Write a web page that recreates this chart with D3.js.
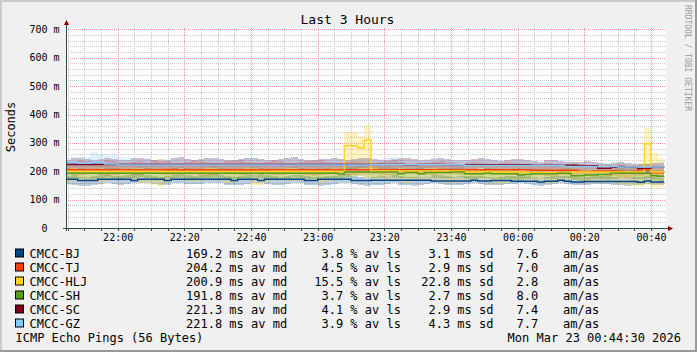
<!DOCTYPE html>
<html lang="en">
<head>
  <meta charset="UTF-8" />
  <title>Last 3 Hours</title>
  <style>
    body { margin: 0; background: #f0f0f0; }
    svg { display: block; }
    text { font-family: 'DejaVu Sans Mono', monospace; white-space: pre; }
  </style>
  <script src="https://d3js.org/d3.v7.min.js"></script>
</head>
<body>
  <div id="chart"></div>
  <script>
    // hosts, legend order
    const hosts = ["CMCC-BJ", "CMCC-TJ", "CMCC-HLJ", "CMCC-SH", "CMCC-SC", "CMCC-GZ"];
    const colors = ["#004586", "#ff420e", "#ffd320", "#579d1c", "#7e0021", "#83caff"];

    // legend stats
    const medAvg = [169.2, 204.2, 200.9, 191.8, 221.3, 221.8];
    const lossAvg = [3.8, 4.5, 15.5, 3.7, 4.1, 3.9];
    const sdevAvg = [3.1, 2.9, 22.8, 2.7, 2.9, 4.3];
    const amAs = [7.6, 7.0, 2.8, 8.0, 7.4, 7.7];

    // median rtt (ms), one value per 2 minute step starting 21:44
    const medBJ = [
      172,172,167,167,167,172,172,172,172,172, 167,172,172,172,172,167,172,172,172,172, 172,172,172,172,172,167,172,172,172,167,
      172,172,172,172,172,172,167,167,172,172, 172,172,172,167,167,167,168,168,168,168, 168,168,168,168,168,166,166,166,166,166,
      166,168,166,166,167,167,167,165,165,165, 165,162,165,165,168,165,162,162,164,164, 164,164,164,164,164,164,161,166,162,162];
    const medTJ = [
      205,205,205,205,205,205,205,205,205,205, 205,205,205,205,205,205,205,205,205,205, 205,205,205,205,205,205,205,205,205,205,
      205,205,205,205,205,205,205,205,205,205, 205,205,205,205,205,205,205,205,205,205, 205,205,205,205,205,205,205,205,205,205,
      205,205,205,205,205,205,205,205,205,205, 204,204,204,204,204,204,204,199,199,199, 201,201,201,199,193,199,205,205,195,195];
    const medHLJ = [
      199,199,199,199,199,199,199,199,199,199, 199,199,199,199,199,198,198,198,198,198, 198,198,198,198,198,198,198,198,198,198,
      198,199,199,199,199,199,199,199,199,199, 199,199,290,290,283,310,201,201,201,201, 201,201,201,201,201,201,201,201,201,201,
      197,197,197,197,197,197,197,197,197,195, 195,195,195,195,195,195,197,197,197,197, 197,197,197,197,197,197,197,297,197,197];
    const medSH = [
      193,193,193,193,193,193,193,193,193,193, 193,193,193,193,193,193,193,193,193,193, 193,193,193,193,193,193,193,193,193,193,
      193,193,193,193,193,193,193,193,193,193, 193,190,197,197,197,197,197,197,197,197, 191,196,196,191,196,196,196,196,197,197,
      191,191,191,193,191,191,191,191,187,189, 191,191,191,191,193,193,184,184,187,187, 189,189,193,193,193,193,193,193,184,182];
    const medSC = [
      224,224,224,224,224,224,224,224,224,224, 224,224,224,224,224,224,224,224,224,224, 224,224,224,224,224,224,224,224,224,224,
      224,224,224,224,224,224,224,224,224,224, 224,224,224,224,224,224,224,224,224,224, 224,222,222,224,224,224,224,223,223,223,
      223,223,223,223,223,223,223,223,223,223, 221,221,221,221,221,221,221,219,219,219, 211,211,214,217,214,214,211,211,214,214];
    const medGZ = [
      231,231,228,228,231,231,226,226,222,222, 222,222,222,222,222,222,222,222,222,222, 222,222,222,222,222,222,222,222,222,222,
      222,222,222,222,222,222,222,222,222,222, 222,222,222,222,222,222,223,223,223,223, 223,223,223,223,223,223,223,223,223,223,
      220,220,220,220,220,220,220,220,220,220, 220,220,220,220,220,217,217,217,217,217, 217,217,217,215,215,215,215,215,215,215];

    // smoke: min / max rtt per step (ms)
    const loBJ = [
      155,152,148,148,150,156,158,155,152,156, 158,160,157,155,150,152,158,160,156,154, 155,158,160,158,153,150,152,156,158,160,
      156,152,150,155,158,157,152,150,149,150, 155,158,160,155,150,148,150,152,155,157, 152,150,149,151,155,158,156,152,150,153,
      155,157,156,152,150,151,154,156,158,155, 150,149,152,155,157,156,153,150,151,154, 156,155,152,150,148,151,153,155,152,150];
    const hiBJ = [
      185,188,180,178,182,186,188,184,182,186, 190,192,187,185,180,183,188,190,186,184, 186,188,190,188,183,180,182,186,188,190,
      186,182,180,185,188,187,182,180,179,182, 185,188,190,185,180,178,180,182,185,187, 182,180,179,181,185,188,186,182,180,183,
      182,185,184,180,178,179,182,184,186,183, 178,177,180,183,185,184,181,178,179,182, 184,183,180,178,176,179,181,183,180,178];
    const loTJ = [
      190,188,186,190,192,188,185,187,190,192, 188,186,190,193,191,188,186,189,191,190, 187,185,188,191,193,190,187,186,189,192,
      190,188,186,189,191,190,187,185,188,190, 192,189,186,188,190,191,189,187,186,188, 190,192,190,188,186,187,189,191,190,188,
      187,186,188,190,191,189,187,186,185,187, 188,186,185,184,186,187,185,183,182,184, 186,185,183,180,178,182,185,186,184,182];
    const hiTJ = [
      228,232,238,235,230,226,240,236,230,228, 232,236,230,238,242,236,230,228,234,238, 236,232,228,230,236,240,238,232,228,230,
      234,238,236,230,228,232,236,240,238,232, 228,230,234,236,232,230,228,232,236,238, 234,230,228,226,230,234,236,232,228,226,
      228,232,230,226,224,228,232,230,226,224, 222,226,228,224,222,220,224,226,222,220, 222,224,220,218,216,220,224,226,222,218];
    const loHLJ = [
      160,165,170,168,162,158,165,170,172,168, 165,160,158,150,145,160,168,170,166,162, 165,168,170,166,160,162,168,170,150,148,
      162,168,170,166,164,168,170,165,160,162, 168,170,180,182,185,178,170,172,168,165, 162,160,165,168,170,166,162,160,158,162,
      165,168,170,166,160,155,158,162,168,170, 166,162,158,160,165,168,170,166,160,158, 162,160,158,155,150,148,145,150,140,145];
    const hiHLJ = [
      215,220,225,222,218,230,225,220,218,222, 225,228,222,218,215,220,225,228,222,218, 220,225,228,224,218,215,220,225,228,222,
      218,215,220,225,228,226,222,218,215,220, 225,228,338,338,323,364,230,228,225,222, 218,220,225,228,230,226,222,218,215,220,
      225,228,230,226,222,218,215,220,225,228, 226,222,218,215,220,225,228,226,222,218, 220,225,228,230,226,222,228,353,265,248];
    const loSH = [
      175,178,176,172,174,177,179,176,173,175, 178,180,177,174,172,175,178,180,176,173, 175,178,180,177,174,172,175,178,180,177,
      174,172,175,178,180,177,174,172,175,176, 178,175,180,182,184,181,178,180,182,179, 177,175,178,180,182,179,177,176,178,180,
      174,172,175,176,173,172,174,170,168,171, 173,175,174,172,175,176,168,166,169,171, 172,170,174,176,175,174,173,172,168,166];
    const hiSH = [
      208,212,210,206,208,211,213,210,207,209, 212,214,211,208,206,209,212,214,210,207, 209,212,214,211,208,206,209,212,214,211,
      208,206,209,212,214,211,208,206,209,210, 212,209,214,216,218,215,212,214,216,213, 211,209,212,214,216,213,211,210,212,214,
      208,206,209,210,207,206,208,204,202,205, 207,209,208,206,209,210,202,200,203,205, 206,204,208,210,209,208,207,206,202,200];
    const loSC = [
      208,210,206,204,208,211,209,206,204,207, 210,212,208,205,203,206,209,211,208,205, 207,210,212,209,206,204,207,210,212,209,
      206,204,207,210,212,209,206,204,207,208, 210,207,205,208,210,212,210,208,206,209, 211,209,207,208,210,212,209,207,206,208,
      207,209,210,208,206,205,207,206,205,204, 206,205,204,203,205,206,204,202,203,201, 196,195,198,200,198,197,195,194,196,198];
    const hiSC = [
      240,245,248,242,238,244,246,242,238,241, 246,248,243,239,237,241,246,249,244,240, 242,246,248,244,240,238,242,246,248,244,
      240,238,242,246,249,244,240,238,242,244, 246,242,238,242,246,248,244,240,238,242, 246,248,244,240,238,242,246,244,240,238,
      240,242,246,244,240,236,238,242,244,240, 236,234,238,240,236,234,232,234,236,232, 228,226,230,232,228,226,224,226,228,230];
    const loGZ = [
      210,212,208,206,210,212,208,205,207,209, 211,209,207,205,208,210,212,209,206,204, 207,210,212,209,206,204,207,210,212,209,
      206,204,207,210,212,209,206,204,207,208, 210,207,205,208,210,212,210,208,206,209, 211,209,207,208,210,212,209,207,206,208,
      205,207,208,206,204,203,205,204,203,202, 204,203,202,201,203,204,202,200,201,199, 198,197,199,200,198,197,196,195,197,198];
    const hiGZ = [
      248,252,250,250,268,262,255,258,250,245, 242,244,246,240,238,242,245,247,243,240, 242,245,247,243,240,238,242,245,247,244,
      240,238,242,245,247,244,240,238,242,244, 245,242,238,242,245,247,244,242,246,249, 245,242,238,240,244,246,242,240,238,240,
      238,240,244,242,238,235,237,240,242,238, 236,234,236,238,235,233,232,234,236,232, 230,228,231,233,230,228,226,228,230,231];

    const medians = [medBJ, medTJ, medHLJ, medSH, medSC, medGZ];
    const lows = [loBJ, loTJ, loHLJ, loSH, loSC, loGZ];
    const highs = [hiBJ, hiTJ, hiHLJ, hiSH, hiSC, hiGZ];

    const yTicks = [0, 100, 200, 300, 400, 500, 600, 700];

    const width = 697;
    const height = 352;
    const plotLeft = 66, plotRight = 666, plotTop = 28, plotBottom = 228;
    const axisColor = "#2c4d43";
    const arrowColor = "#800000";

    const tStart = new Date(Date.UTC(2026, 2, 22, 21, 44, 30));
    const tEnd = new Date(Date.UTC(2026, 2, 23, 0, 44, 30));
    const firstStep = Date.UTC(2026, 2, 22, 21, 44);
    const stepMs = 120000;

    const x = d3.scaleUtc().domain([tStart, tEnd]).range([plotLeft, plotRight]);
    const y = d3.scaleLinear().domain([0, 705]).range([plotBottom, plotTop]);

    const svg = d3.select("#chart").append("svg")
      .attr("width", width)
      .attr("height", height);

    // frame
    svg.append("rect").attr("width", width).attr("height", height).attr("fill", "#f0f0f0");
    svg.append("rect").attr("x", 0).attr("y", 0).attr("width", width).attr("height", 2).attr("fill", "#cbcbcb");
    svg.append("rect").attr("x", 0).attr("y", 0).attr("width", 2).attr("height", height).attr("fill", "#cbcbcb");
    svg.append("rect").attr("x", 0).attr("y", height - 2).attr("width", width).attr("height", 2).attr("fill", "#999999");
    svg.append("rect").attr("x", width - 2).attr("y", 0).attr("width", 2).attr("height", height).attr("fill", "#999999");

    svg.append("rect")
      .attr("x", plotLeft).attr("y", plotTop)
      .attr("width", plotRight - plotLeft).attr("height", plotBottom - plotTop)
      .attr("fill", "#ffffff");

    // grid
    const grid = svg.append("g").attr("stroke-width", 1).attr("stroke-dasharray", "1,1");
    const px = v => Math.round(v) + 0.5;

    d3.range(20, 705, 20).filter(v => v % 100 !== 0).forEach(v => {
      grid.append("line")
        .attr("x1", plotLeft).attr("x2", plotRight)
        .attr("y1", px(y(v))).attr("y2", px(y(v)))
        .attr("stroke", "#c8c8c8");
    });
    const minorTimes = d3.utcMinute.every(5).range(tStart, tEnd);
    minorTimes.filter(t => t.getUTCMinutes() % 20 !== 0).forEach(t => {
      grid.append("line")
        .attr("x1", px(x(t))).attr("x2", px(x(t)))
        .attr("y1", plotTop).attr("y2", plotBottom)
        .attr("stroke", "#c8c8c8");
    });
    yTicks.filter(v => v > 0).forEach(v => {
      grid.append("line")
        .attr("x1", plotLeft).attr("x2", plotRight)
        .attr("y1", px(y(v))).attr("y2", px(y(v)))
        .attr("stroke", "#ee9a9a");
    });
    const majorTimes = d3.utcMinute.every(20).range(tStart, tEnd);
    majorTimes.forEach(t => {
      grid.append("line")
        .attr("x1", px(x(t))).attr("x2", px(x(t)))
        .attr("y1", plotTop).attr("y2", plotBottom)
        .attr("stroke", "#ee9a9a");
    });

    // smoke
    const steps = d3.range(medBJ.length).map(k => ({
      t0: new Date(Math.max(firstStep + k * stepMs, +tStart)),
      t1: new Date(firstStep + (k + 1) * stepMs)
    }));

    hosts.forEach((h, i) => {
      svg.append("g")
        .attr("fill", colors[i])
        .attr("fill-opacity", 0.27)
        .attr("shape-rendering", "crispEdges")
        .selectAll("rect")
        .data(steps)
        .enter().append("rect")
        .attr("x", d => x(d.t0))
        .attr("width", d => x(d.t1) - x(d.t0))
        .attr("y", (d, k) => y(highs[i][k]))
        .attr("height", (d, k) => y(lows[i][k]) - y(highs[i][k]));
    });

    // median lines
    const line = d3.line()
      .x(d => x(d.t))
      .y(d => y(d.v))
      .curve(d3.curveStepAfter);

    hosts.forEach((h, i) => {
      const pts = steps.map((s, k) => ({ t: s.t0, v: medians[i][k] }));
      pts.push({ t: steps[steps.length - 1].t1, v: medians[i][medians[i].length - 1] });
      svg.append("path")
        .attr("d", line(pts))
        .attr("fill", "none")
        .attr("stroke", colors[i])
        .attr("stroke-width", 1.5);
    });

    // axes
    svg.append("line")
      .attr("x1", plotLeft - 3).attr("x2", plotRight + 4)
      .attr("y1", plotBottom + 0.5).attr("y2", plotBottom + 0.5)
      .attr("stroke", axisColor);
    svg.append("line")
      .attr("x1", plotLeft + 0.5).attr("x2", plotLeft + 0.5)
      .attr("y1", plotBottom + 3).attr("y2", plotTop - 3)
      .attr("stroke", axisColor);
    svg.append("path")
      .attr("d", `M${plotLeft - 2},${plotTop - 3}L${plotLeft + 3},${plotTop - 3}L${plotLeft + 0.5},${plotTop - 8}Z`)
      .attr("fill", arrowColor);
    svg.append("path")
      .attr("d", `M${plotRight + 2},${plotBottom - 2}L${plotRight + 2},${plotBottom + 3}L${plotRight + 7},${plotBottom + 0.5}Z`)
      .attr("fill", arrowColor);

    minorTimes.forEach(t => {
      svg.append("line")
        .attr("x1", px(x(t))).attr("x2", px(x(t)))
        .attr("y1", plotBottom + 1).attr("y2", plotBottom + 3)
        .attr("stroke", axisColor);
    });

    // y labels
    svg.append("g")
      .attr("font-size", 10)
      .attr("text-anchor", "end")
      .attr("fill", "#000")
      .selectAll("text")
      .data(yTicks)
      .enter().append("text")
      .attr("xml:space", "preserve")
      .attr("x", 59.5)
      .attr("y", d => y(d) + 3.6)
      .text(d => d === 0 ? "0  " : d + " m");

    // x labels
    svg.append("g")
      .attr("font-size", 10)
      .attr("text-anchor", "middle")
      .attr("fill", "#000")
      .selectAll("text")
      .data(majorTimes)
      .enter().append("text")
      .attr("x", d => x(d) + 0.5)
      .attr("y", 241)
      .text(d3.utcFormat("%H:%M"));

    // title, axis title, watermark
    svg.append("text")
      .attr("x", 347.5).attr("y", 24)
      .attr("font-size", 13)
      .attr("text-anchor", "middle")
      .text("Last 3 Hours");

    svg.append("text")
      .attr("transform", "translate(15,127) rotate(-90)")
      .attr("font-size", 12)
      .attr("text-anchor", "middle")
      .text("Seconds");

    svg.append("text")
      .attr("transform", "translate(685,5) rotate(90)")
      .attr("font-size", 8)
      .attr("fill", "#9a9a9a")
      .text("RRDTOOL / TOBI OETIKER");

    // legend
    const fmt = v => d3.format(".1f")(v).padStart(5, " ");
    const legend = svg.append("g").attr("font-size", 12).attr("fill", "#000");

    hosts.forEach((h, i) => {
      const cy = 253.5 + i * 14;
      const by = cy + 4.2;
      legend.append("rect")
        .attr("x", 15.5).attr("y", cy - 4.5)
        .attr("width", 8).attr("height", 8)
        .attr("fill", colors[i])
        .attr("stroke", "#000");
      legend.append("text").attr("x", 29.5).attr("y", by).text(h);
      legend.append("text").attr("xml:space", "preserve").attr("x", 186).attr("y", by)
        .text(`${fmt(medAvg[i])} ms av md`);
      legend.append("text").attr("xml:space", "preserve").attr("x", 307).attr("y", by)
        .text(`${fmt(lossAvg[i])} % av ls`);
      legend.append("text").attr("xml:space", "preserve").attr("x", 414).attr("y", by)
        .text(`${fmt(sdevAvg[i])} ms sd`);
      legend.append("text").attr("xml:space", "preserve").attr("x", 502).attr("y", by)
        .text(fmt(amAs[i]));
      legend.append("text").attr("x", 563).attr("y", by).text("am/as");
    });

    legend.append("text").attr("x", 15.5).attr("y", 341.5).text("ICMP Echo Pings (56 Bytes)");
    legend.append("text").attr("x", 681).attr("y", 341.5).attr("text-anchor", "end")
      .text("Mon Mar 23 00:44:30 2026");
  </script>
</body>
</html>
